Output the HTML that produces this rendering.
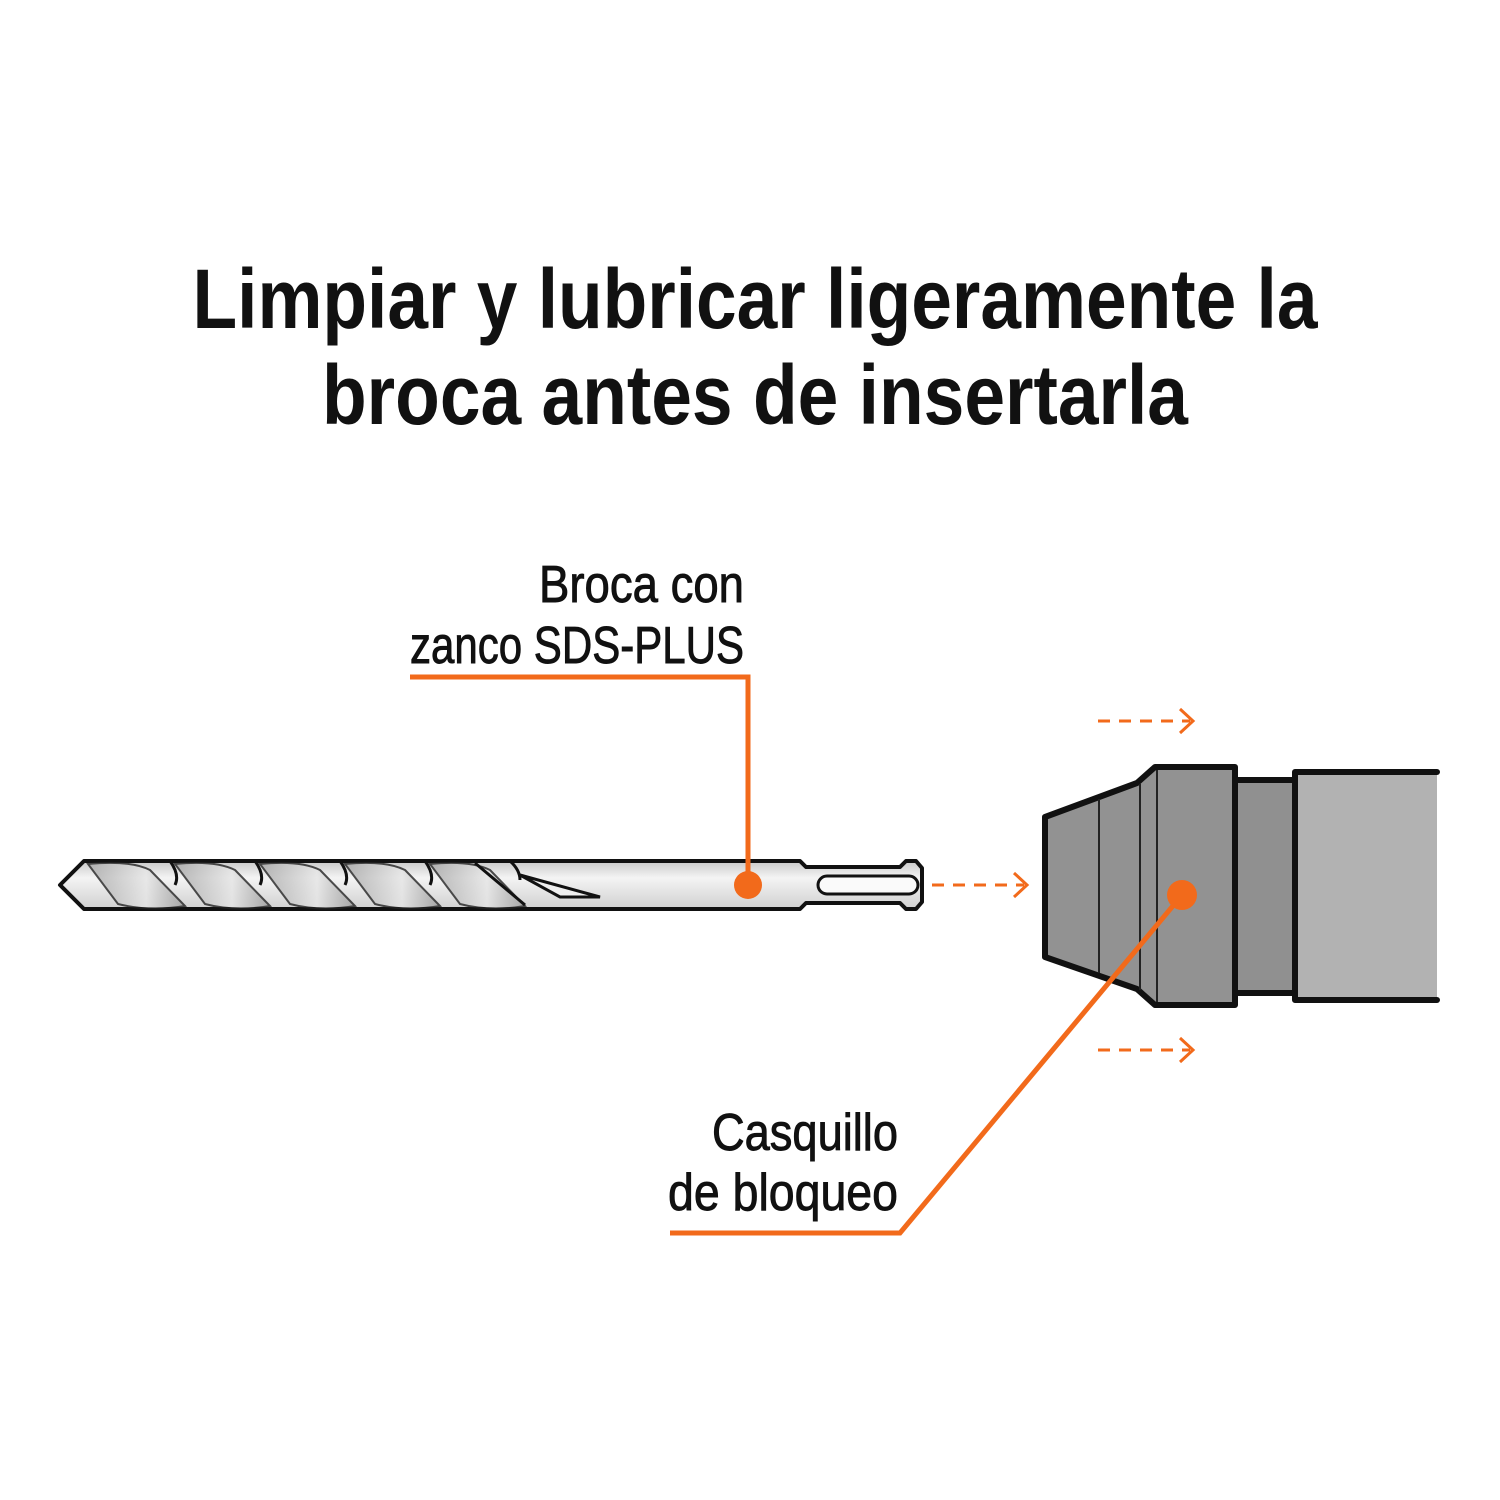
<!DOCTYPE html>
<html><head><meta charset="utf-8"><style>
html,body{margin:0;padding:0;background:#fff}
svg{display:block}
text{font-family:"Liberation Sans Narrow","Liberation Sans",sans-serif;fill:#111}
.lb{stroke:#111;stroke-width:0.9}
</style></head><body>
<svg width="1500" height="1500" viewBox="0 0 1500 1500" xmlns="http://www.w3.org/2000/svg">
<defs>
<linearGradient id="g" x1="0" y1="0" x2="0" y2="1">
<stop offset="0" stop-color="#c9c9c9"/><stop offset="0.35" stop-color="#f4f4f4"/><stop offset="1" stop-color="#d0d0d0"/>
</linearGradient>
<linearGradient id="f" x1="0" y1="0" x2="1" y2="0">
<stop offset="0" stop-color="#a8a8a8"/><stop offset="0.6" stop-color="#e6e6e6"/><stop offset="1" stop-color="#9a9a9a"/>
</linearGradient>
</defs>
<text x="755" y="328" text-anchor="middle" font-size="84" font-weight="bold" textLength="1125" lengthAdjust="spacingAndGlyphs">Limpiar y lubricar ligeramente la</text>
<text x="755" y="424" text-anchor="middle" font-size="84" font-weight="bold" textLength="866" lengthAdjust="spacingAndGlyphs">broca antes de insertarla</text>

<text class="lb" x="744" y="602" text-anchor="end" font-size="52" textLength="205" lengthAdjust="spacingAndGlyphs">Broca con</text>
<text class="lb" x="744" y="663" text-anchor="end" font-size="52" textLength="334" lengthAdjust="spacingAndGlyphs">zanco SDS-PLUS</text>
<text class="lb" x="898" y="1150" text-anchor="end" font-size="52" textLength="186" lengthAdjust="spacingAndGlyphs">Casquillo</text>
<text class="lb" x="898" y="1210" text-anchor="end" font-size="52" textLength="230" lengthAdjust="spacingAndGlyphs">de bloqueo</text>

<!-- drill -->
<path d="M60,885 L84,861 L800,861 L806,867 L900,867 L906,861 L916,861 L922,868 L922,902 L916,909 L906,909 L900,903 L806,903 L800,909 L84,909 Z" fill="url(#g)" stroke="#111" stroke-width="4" stroke-linejoin="round"/>
<g fill="url(#f)" stroke="#222" stroke-width="2">
<path d="M88,864 Q130,860 150,870 L185,906 Q150,912 118,904 Z" opacity="0.8"/>
<path d="M175,864 Q215,860 235,870 L270,906 Q235,912 205,904 Z" opacity="0.8"/>
<path d="M260,864 Q300,860 320,870 L355,906 Q320,912 290,904 Z" opacity="0.8"/>
<path d="M345,864 Q385,860 405,870 L440,906 Q405,912 375,904 Z" opacity="0.8"/>
<path d="M430,864 Q470,860 490,870 L525,906 Q490,912 460,904 Z" opacity="0.8"/>
</g>
<path d="M170,861 Q180,875 175,885 M255,861 Q265,875 260,885 M340,861 Q350,875 345,885 M425,861 Q435,875 430,885 M510,861 Q520,870 520,880" stroke="#111" stroke-width="3" fill="none"/>
<path d="M520,875 L600,897 L560,897 Z" fill="#eee" stroke="#111" stroke-width="3"/>
<path d="M475,863 L525,905" stroke="#111" stroke-width="3"/>
<rect x="818" y="876" width="100" height="18" rx="9" fill="#fafafa" stroke="#111" stroke-width="3"/>

<!-- chuck -->
<path d="M1295,772 L1437,772 L1437,1000 L1295,1000 Z" fill="#b2b2b2"/>
<path d="M1295,772 L1437,772 M1295,1000 L1437,1000 M1295,772 L1295,1000" stroke="#111" stroke-width="6" stroke-linecap="round" fill="none"/>
<rect x="1235" y="780" width="60" height="213" fill="#909090" stroke="#111" stroke-width="6"/>
<path d="M1045,817 L1137,783 L1155,767 L1235,767 L1235,1005 L1155,1005 L1137,989 L1045,957 Z" fill="#929292" stroke="#111" stroke-width="6" stroke-linejoin="round"/>
<path d="M1099,799 L1099,973 M1140,784 L1140,990 M1157,770 L1157,1002" stroke="#222" stroke-width="2"/>

<!-- dashed arrows -->
<g stroke="#f26a1b" stroke-width="3" fill="none">
<path d="M1098,721 L1190,721" stroke-dasharray="12,9"/><path d="M1180,709 L1193,721 L1180,733"/>
<path d="M932,885 L1024,885" stroke-dasharray="12,9"/><path d="M1014,873 L1027,885 L1014,897"/>
<path d="M1098,1050 L1190,1050" stroke-dasharray="12,9"/><path d="M1180,1038 L1193,1050 L1180,1062"/>
</g>

<!-- callouts -->
<g stroke="#f26a1b" stroke-width="5" fill="none">
<path d="M410,677 L748,677 L748,885"/>
<path d="M670,1233 L900,1233 L1182,895"/>
</g>
<circle cx="748" cy="885" r="14" fill="#f26a1b"/>
<circle cx="1182" cy="895" r="15" fill="#f26a1b"/>
</svg>
</body></html>
